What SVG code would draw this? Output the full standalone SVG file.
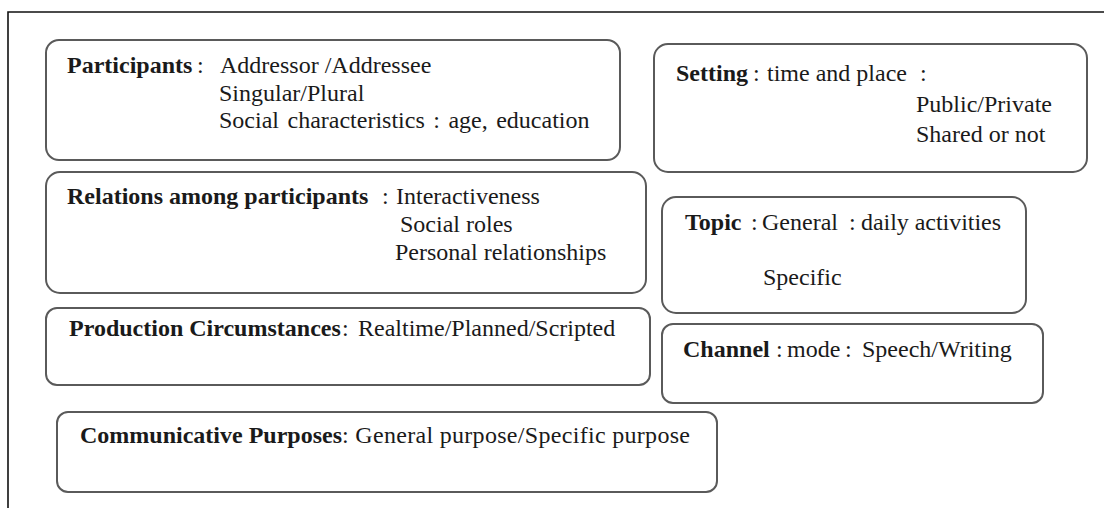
<svg xmlns="http://www.w3.org/2000/svg" width="1104" height="508" viewBox="0 0 1104 508">
<style>
.box{fill:#fff;stroke:#5a5a5a;stroke-width:2}
text{font-family:'Liberation Serif','Times New Roman',Times,serif;font-size:24px;fill:#1a1a1a}
.b{font-weight:bold}
.frame{stroke:#111;stroke-width:1.6;fill:none}
</style>
<rect width="1104" height="508" fill="#fff"/>
<path class="frame" d="M8,508 V12 H1104"/>
<g id="participants">
<rect class="box" x="46" y="40" width="574" height="120" rx="13"/>
<text class="b" x="67" y="73">Participants</text>
<text x="197" y="73">:</text>
<text x="220" y="73">Addressor /Addressee</text>
<text x="219" y="101">Singular/Plural</text>
<text x="219" y="128" word-spacing="2.5">Social characteristics : age, education</text>
</g>
<g id="setting">
<rect class="box" x="654" y="44" width="433" height="128" rx="14"/>
<text class="b" x="676" y="81">Setting</text>
<text x="753" y="81">:</text>
<text x="767" y="81">time and place</text>
<text x="920" y="81">:</text>
<text x="916" y="112">Public/Private</text>
<text x="916" y="142">Shared or not</text>
</g>
<g id="relations">
<rect class="box" x="46" y="172" width="600" height="121" rx="14"/>
<text class="b" x="67" y="204">Relations among participants</text>
<text x="382" y="204">:</text>
<text x="396" y="204">Interactiveness</text>
<text x="400" y="232">Social roles</text>
<text x="395" y="260">Personal relationships</text>
</g>
<g id="topic">
<rect class="box" x="662" y="197" width="364" height="116" rx="14"/>
<text class="b" x="685" y="230">Topic</text>
<text x="751" y="230">:</text>
<text x="762" y="230">General</text>
<text x="849" y="230">:</text>
<text x="861" y="230" textLength="140" lengthAdjust="spacing">daily activities</text>
<text x="763" y="285">Specific</text>
</g>
<g id="production">
<rect class="box" x="46" y="308" width="604" height="77" rx="11"/>
<text class="b" x="69" y="336">Production Circumstances</text>
<text x="342" y="336">:</text>
<text x="358" y="336">Realtime/Planned/Scripted</text>
</g>
<g id="channel">
<rect class="box" x="662" y="324" width="381" height="79" rx="11"/>
<text class="b" x="683" y="357">Channel</text>
<text x="776" y="357">:</text>
<text x="787" y="357">mode</text>
<text x="845" y="357">:</text>
<text x="862" y="357">Speech/Writing</text>
</g>
<g id="communicative">
<rect class="box" x="57" y="412" width="660" height="80" rx="11"/>
<text class="b" x="80" y="443">Communicative Purposes</text>
<text x="342" y="443" textLength="348" lengthAdjust="spacing">: General purpose/Specific purpose</text>
</g>
<g id="connectors"></g>
</svg>
